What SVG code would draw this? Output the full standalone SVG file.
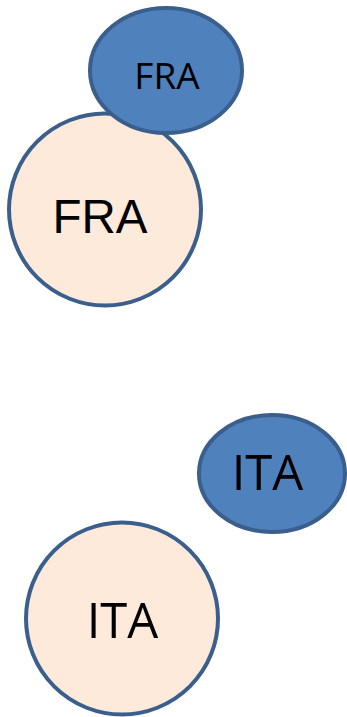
<svg xmlns="http://www.w3.org/2000/svg" width="347" height="717" viewBox="0 0 347 717">
<style>
.blue{fill:#4F81BD;stroke:#3B5F8C;stroke-width:4}
.light{fill:#FDEADA;stroke:#3B5F8C;stroke-width:4}
.t{fill:#000;text-anchor:middle}
.os{font-family:"Open Sans","Noto Sans",sans-serif}
.ls{font-family:"Liberation Sans",Arial,sans-serif}
</style>
<rect width="347" height="717" fill="#fff"/>
<g id="connectors"></g>
<g id="fra-circle">
<circle class="light" cx="105" cy="209.5" r="96"/>
<text class="t ls" x="100" y="233" font-size="47.5">FRA</text>
</g>
<g id="fra-ellipse">
<ellipse class="blue" cx="166" cy="70.5" rx="76" ry="62.5"/>
<text class="t os" x="167" y="88.5" font-size="37">FRA</text>
</g>
<g id="ita-ellipse">
<ellipse class="blue" cx="272" cy="473.5" rx="73" ry="58.5"/>
<text class="t os" x="267.5" y="490" font-size="49">ITA</text>
</g>
<g id="ita-circle">
<circle class="light" cx="122" cy="618.5" r="96"/>
<text class="t os" x="122.5" y="638" font-size="49">ITA</text>
</g>
</svg>
